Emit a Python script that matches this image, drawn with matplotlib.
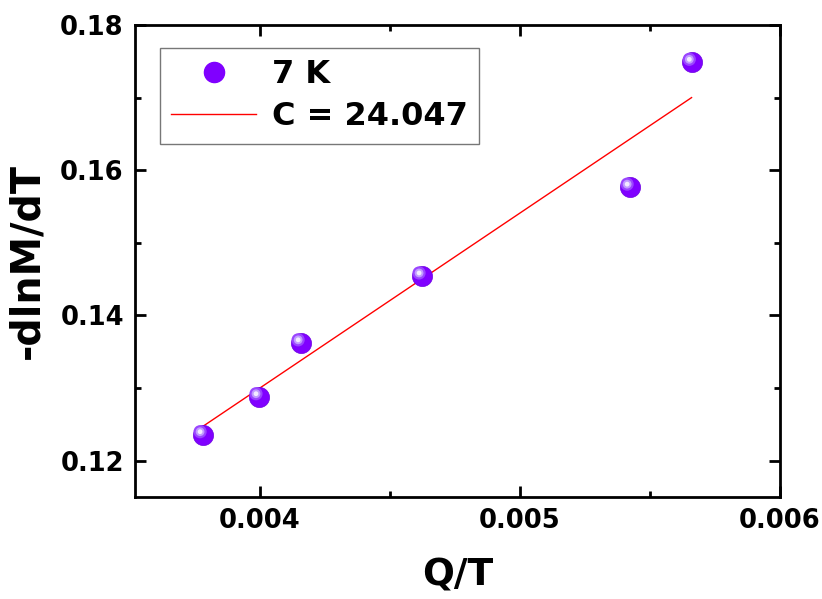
import matplotlib
matplotlib.use('Agg')
import matplotlib.pyplot as plt
from matplotlib.transforms import ScaledTranslation
from matplotlib.ticker import MultipleLocator
from matplotlib.lines import Line2D

# data
q_over_t = [0.003781, 0.003996, 0.004158, 0.004623, 0.005423, 0.005662]
dlnm_dt = [0.12357, 0.1288, 0.13622, 0.14543, 0.15766, 0.17485]
fit_x = [0.00378, 0.00566]
fit_y = [0.1247, 0.1700]
series_label = '7 K'
fit_label = 'C = 24.047'

plt.rcParams['font.family'] = ['DejaVu Sans']
plt.rcParams['font.weight'] = 'bold'

fig = plt.figure(figsize=(8.22, 5.99), dpi=100)
ax = fig.add_axes([0.1642, 0.1703, 0.7847, 0.7880])

purple = '#8000FF'
ax.plot(fit_x, fit_y, color='red', lw=1.0, zorder=2)
ax.scatter(q_over_t, dlnm_dt, s=210, color=purple, edgecolors='#6c00e0',
           linewidths=0.5, zorder=3)
# glossy highlight, a few stacked dots shifted up-left
shift = ax.transData + ScaledTranslation(-2.0 / 72, 2.2 / 72, fig.dpi_scale_trans)
for size, col in [(90, '#9a45ff'), (40, '#c19bff'), (12, '#f2ebff')]:
    ax.scatter(q_over_t, dlnm_dt, s=size, color=col, edgecolors='none',
               transform=shift, zorder=4)

ax.set_xlim(0.00352, 0.006)
ax.set_ylim(0.115, 0.18)
ax.xaxis.set_major_locator(MultipleLocator(0.001))
ax.xaxis.set_minor_locator(MultipleLocator(0.0005))
ax.yaxis.set_major_locator(MultipleLocator(0.02))
ax.yaxis.set_minor_locator(MultipleLocator(0.01))
ax.tick_params(which='both', direction='in', top=True, right=True, width=2)
ax.tick_params(which='major', length=8, labelsize=18.5, pad=8)
ax.tick_params(which='minor', length=4)
for lab in ax.get_xticklabels() + ax.get_yticklabels():
    lab.set_fontweight('bold')
for sp in ax.spines.values():
    sp.set_linewidth(2)

ax.set_xlabel('Q/T', fontsize=27, fontweight='bold', labelpad=17)
ax.set_ylabel('-dlnM/dT', fontsize=28.5, fontweight='bold', labelpad=9)

handles = [
    Line2D([], [], ls='none', marker='o', ms=14.5, color=purple),
    Line2D([], [], color='red', lw=1.0),
]
leg = ax.legend(handles, [series_label, fit_label], loc='upper left',
                bbox_to_anchor=(0.039, 0.951), fontsize=23, frameon=True,
                fancybox=False, edgecolor='#555555', handlelength=2.65,
                borderpad=0.35, labelspacing=0.35, handletextpad=0.5,
                borderaxespad=0)
leg.get_frame().set_linewidth(1.0)
for t in leg.get_texts():
    t.set_fontweight('bold')

fig.savefig('out.png', dpi=100)
